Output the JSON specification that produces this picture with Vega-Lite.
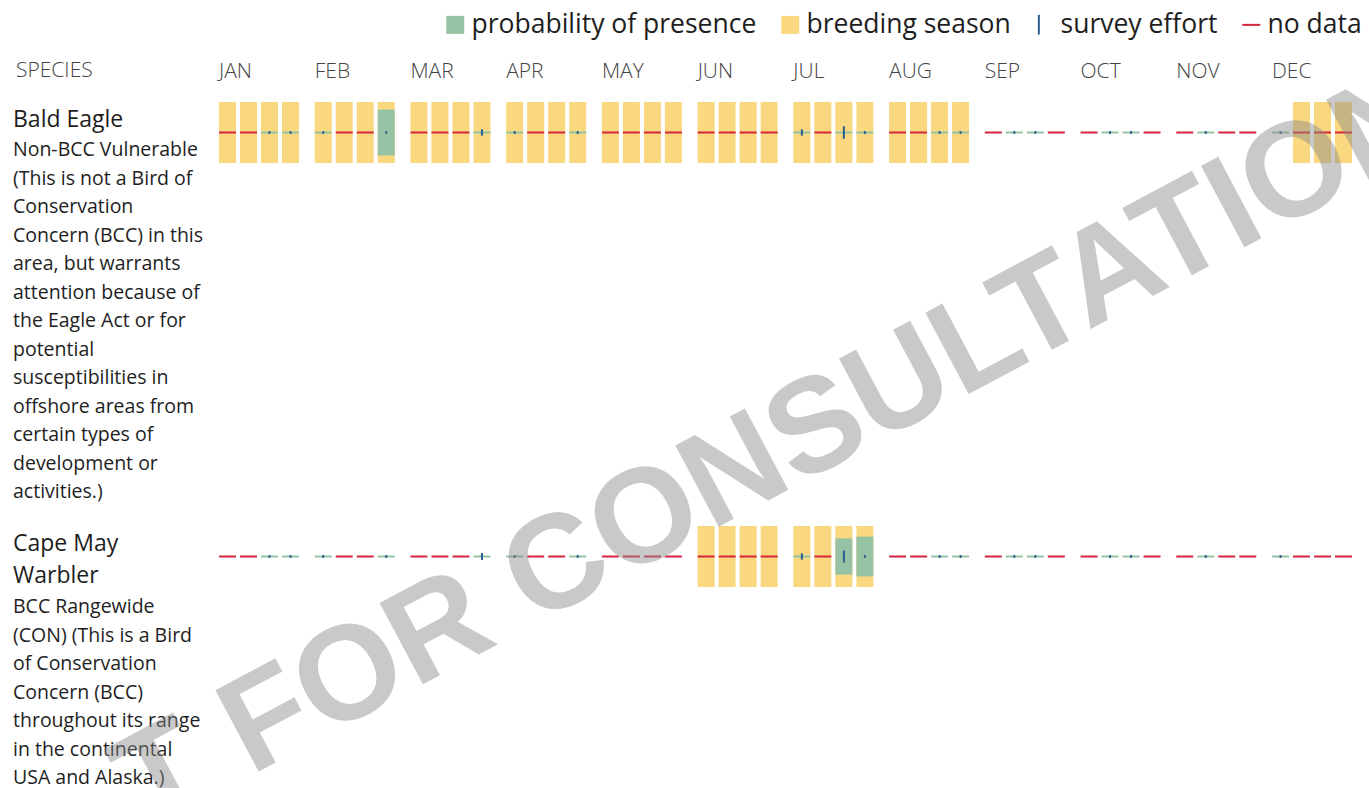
{
  "$schema": "https://vega.github.io/schema/vega-lite/v6.json",
  "autosize": {"type": "none"},
  "padding": {"left": 13, "top": 102, "right": 1356, "bottom": 686},
  "background": "white",
  "config": {"view": {"stroke": null}, "font": "Open Sans"},
  "datasets": {
    "be": [
      {"m":"JAN","w":1,"b":1,"nd":1,"p":0,"e":0},{"m":"JAN","w":2,"b":1,"nd":1,"p":0,"e":0},{"m":"JAN","w":3,"b":1,"nd":0,"p":0,"e":2},{"m":"JAN","w":4,"b":1,"nd":0,"p":0,"e":2},
      {"m":"FEB","w":1,"b":1,"nd":0,"p":0,"e":2},{"m":"FEB","w":2,"b":1,"nd":1,"p":0,"e":0},{"m":"FEB","w":3,"b":1,"nd":1,"p":0,"e":0},{"m":"FEB","w":4,"b":1,"nd":0,"p":7.3,"e":2},
      {"m":"MAR","w":1,"b":1,"nd":1,"p":0,"e":0},{"m":"MAR","w":2,"b":1,"nd":1,"p":0,"e":0},{"m":"MAR","w":3,"b":1,"nd":1,"p":0,"e":0},{"m":"MAR","w":4,"b":1,"nd":0,"p":0,"e":4.5},
      {"m":"APR","w":1,"b":1,"nd":0,"p":0,"e":2},{"m":"APR","w":2,"b":1,"nd":1,"p":0,"e":0},{"m":"APR","w":3,"b":1,"nd":1,"p":0,"e":0},{"m":"APR","w":4,"b":1,"nd":0,"p":0,"e":2},
      {"m":"MAY","w":1,"b":1,"nd":1,"p":0,"e":0},{"m":"MAY","w":2,"b":1,"nd":1,"p":0,"e":0},{"m":"MAY","w":3,"b":1,"nd":1,"p":0,"e":0},{"m":"MAY","w":4,"b":1,"nd":1,"p":0,"e":0},
      {"m":"JUN","w":1,"b":1,"nd":1,"p":0,"e":0},{"m":"JUN","w":2,"b":1,"nd":1,"p":0,"e":0},{"m":"JUN","w":3,"b":1,"nd":1,"p":0,"e":0},{"m":"JUN","w":4,"b":1,"nd":1,"p":0,"e":0},
      {"m":"JUL","w":1,"b":1,"nd":0,"p":0,"e":4.5},{"m":"JUL","w":2,"b":1,"nd":1,"p":0,"e":0},{"m":"JUL","w":3,"b":1,"nd":0,"p":0,"e":9},{"m":"JUL","w":4,"b":1,"nd":0,"p":0,"e":2},
      {"m":"AUG","w":1,"b":1,"nd":1,"p":0,"e":0},{"m":"AUG","w":2,"b":1,"nd":1,"p":0,"e":0},{"m":"AUG","w":3,"b":1,"nd":0,"p":0,"e":2},{"m":"AUG","w":4,"b":1,"nd":0,"p":0,"e":2},
      {"m":"SEP","w":1,"b":0,"nd":1,"p":0,"e":0},{"m":"SEP","w":2,"b":0,"nd":0,"p":0,"e":2},{"m":"SEP","w":3,"b":0,"nd":0,"p":0,"e":2},{"m":"SEP","w":4,"b":0,"nd":1,"p":0,"e":0},
      {"m":"OCT","w":1,"b":0,"nd":1,"p":0,"e":0},{"m":"OCT","w":2,"b":0,"nd":0,"p":0,"e":2},{"m":"OCT","w":3,"b":0,"nd":0,"p":0,"e":2},{"m":"OCT","w":4,"b":0,"nd":1,"p":0,"e":0},
      {"m":"NOV","w":1,"b":0,"nd":1,"p":0,"e":0},{"m":"NOV","w":2,"b":0,"nd":0,"p":0,"e":2},{"m":"NOV","w":3,"b":0,"nd":1,"p":0,"e":0},{"m":"NOV","w":4,"b":0,"nd":1,"p":0,"e":0},
      {"m":"DEC","w":1,"b":0,"nd":0,"p":0,"e":2},{"m":"DEC","w":2,"b":1,"nd":1,"p":0,"e":0},{"m":"DEC","w":3,"b":1,"nd":1,"p":0,"e":0},{"m":"DEC","w":4,"b":1,"nd":1,"p":0,"e":0}
    ],
    "cm": [
      {"m":"JAN","w":1,"b":0,"nd":1,"p":0,"e":0},{"m":"JAN","w":2,"b":0,"nd":1,"p":0,"e":0},{"m":"JAN","w":3,"b":0,"nd":0,"p":0,"e":2},{"m":"JAN","w":4,"b":0,"nd":0,"p":0,"e":2},
      {"m":"FEB","w":1,"b":0,"nd":0,"p":0,"e":2},{"m":"FEB","w":2,"b":0,"nd":1,"p":0,"e":0},{"m":"FEB","w":3,"b":0,"nd":1,"p":0,"e":0},{"m":"FEB","w":4,"b":0,"nd":0,"p":0,"e":2},
      {"m":"MAR","w":1,"b":0,"nd":1,"p":0,"e":0},{"m":"MAR","w":2,"b":0,"nd":1,"p":0,"e":0},{"m":"MAR","w":3,"b":0,"nd":1,"p":0,"e":0},{"m":"MAR","w":4,"b":0,"nd":0,"p":0,"e":5},
      {"m":"APR","w":1,"b":0,"nd":0,"p":0,"e":2},{"m":"APR","w":2,"b":0,"nd":1,"p":0,"e":0},{"m":"APR","w":3,"b":0,"nd":1,"p":0,"e":0},{"m":"APR","w":4,"b":0,"nd":0,"p":0,"e":2},
      {"m":"MAY","w":1,"b":0,"nd":1,"p":0,"e":0},{"m":"MAY","w":2,"b":0,"nd":1,"p":0,"e":0},{"m":"MAY","w":3,"b":0,"nd":1,"p":0,"e":0},{"m":"MAY","w":4,"b":0,"nd":1,"p":0,"e":0},
      {"m":"JUN","w":1,"b":1,"nd":1,"p":0,"e":0},{"m":"JUN","w":2,"b":1,"nd":1,"p":0,"e":0},{"m":"JUN","w":3,"b":1,"nd":1,"p":0,"e":0},{"m":"JUN","w":4,"b":1,"nd":1,"p":0,"e":0},
      {"m":"JUL","w":1,"b":1,"nd":0,"p":0,"e":4.5},{"m":"JUL","w":2,"b":1,"nd":1,"p":0,"e":0},{"m":"JUL","w":3,"b":1,"nd":0,"p":5.7,"e":8.6},{"m":"JUL","w":4,"b":1,"nd":0,"p":6.3,"e":2},
      {"m":"AUG","w":1,"b":0,"nd":1,"p":0,"e":0},{"m":"AUG","w":2,"b":0,"nd":1,"p":0,"e":0},{"m":"AUG","w":3,"b":0,"nd":0,"p":0,"e":2},{"m":"AUG","w":4,"b":0,"nd":0,"p":0,"e":2},
      {"m":"SEP","w":1,"b":0,"nd":1,"p":0,"e":0},{"m":"SEP","w":2,"b":0,"nd":0,"p":0,"e":2},{"m":"SEP","w":3,"b":0,"nd":0,"p":0,"e":2},{"m":"SEP","w":4,"b":0,"nd":1,"p":0,"e":0},
      {"m":"OCT","w":1,"b":0,"nd":1,"p":0,"e":0},{"m":"OCT","w":2,"b":0,"nd":0,"p":0,"e":2},{"m":"OCT","w":3,"b":0,"nd":0,"p":0,"e":2},{"m":"OCT","w":4,"b":0,"nd":1,"p":0,"e":0},
      {"m":"NOV","w":1,"b":0,"nd":1,"p":0,"e":0},{"m":"NOV","w":2,"b":0,"nd":0,"p":0,"e":2},{"m":"NOV","w":3,"b":0,"nd":1,"p":0,"e":0},{"m":"NOV","w":4,"b":0,"nd":1,"p":0,"e":0},
      {"m":"DEC","w":1,"b":0,"nd":0,"p":0,"e":2},{"m":"DEC","w":2,"b":0,"nd":1,"p":0,"e":0},{"m":"DEC","w":3,"b":0,"nd":1,"p":0,"e":0},{"m":"DEC","w":4,"b":0,"nd":1,"p":0,"e":0}
    ],
    "sp1": [{"species": "Bald Eagle", "name": "Bald Eagle", "desc": "Non-BCC Vulnerable\n(This is not a Bird of\nConservation\nConcern (BCC) in this\narea, but warrants\nattention because of\nthe Eagle Act or for\npotential\nsusceptibilities in\noffshore areas from\ncertain types of\ndevelopment or\nactivities.)"}],
    "sp2": [{"species": "Cape May Warbler", "name": "Cape May\nWarbler", "desc": "BCC Rangewide\n(CON) (This is a Bird\nof Conservation\nConcern (BCC)\nthroughout its range\nin the continental\nUSA and Alaska.)"}]
  },
  "bounds": "flush",
  "spacing": 424,
  "resolve": {"scale": {"size": "independent"}},
  "vconcat": [
    {
      "bounds": "flush",
      "spacing": 10,
      "resolve": {"scale": {"size": "independent"}},
      "hconcat": [
        {
          "width": 196, "height": 61,
          "data": {"name": "sp1"},
          "title": {"text": "SPECIES", "anchor": "start", "frame": "group", "offset": 25, "baseline": "alphabetic", "font": "Open Sans", "fontSize": 21, "fontWeight": 300, "color": "#444444", "dx": 3, "dy": 21},
          "encoding": {
            "x": {"field": "species", "type": "nominal", "axis": null, "scale": {"type": "point", "padding": 0, "align": 0}},
            "y": {"field": "species", "type": "nominal", "axis": null, "scale": {"type": "point", "padding": 0, "align": 0}}
          },
          "layer": [
            {"mark": {"type": "text", "align": "left", "baseline": "alphabetic", "lineBreak": "\n", "font": "Open Sans", "fontSize": 23, "lineHeight": 32, "dy": 25, "color": "#1e1e1e"}, "encoding": {"text": {"field": "name"}}},
            {"mark": {"type": "text", "align": "left", "baseline": "alphabetic", "lineBreak": "\n", "font": "Open Sans", "fontSize": 19.5, "lineHeight": 28.5, "dy": 54, "color": "#1e1e1e"}, "encoding": {"text": {"field": "desc"}}}
          ]
        },
        {
          "width": 1133, "height": 61,
          "data": {"name": "be"},
          "resolve": {"scale": {"size": "independent"}},
          "encoding": {
            "x": {"field": "m", "type": "ordinal", "sort": ["JAN","FEB","MAR","APR","MAY","JUN","JUL","AUG","SEP","OCT","NOV","DEC"], "scale": {"domain": ["JAN","FEB","MAR","APR","MAY","JUN","JUL","AUG","SEP","OCT","NOV","DEC"], "paddingInner": 0.1643, "paddingOuter": 0},
              "axis": {"orient": "top", "domain": false, "ticks": false, "tickSize": 0, "grid": false, "title": null, "labelAlign": "left", "labelBaseline": "alphabetic", "labelPadding": 25, "labelOffset": -40, "labelAngle": 0, "labelFont": "Open Sans", "labelFontSize": 21, "labelFontWeight": 300, "labelColor": "#444444"}},
            "xOffset": {"field": "w", "type": "ordinal", "scale": {"domain": [1,2,3,4], "paddingInner": 0.1905, "paddingOuter": 0}}
          },
          "layer": [
            {"transform": [{"filter": "datum.b == 1"}], "mark": {"type": "rect"},
             "encoding": {"color": {"datum": "breeding season", "type": "nominal",
               "scale": {"domain": ["probability of presence","breeding season","survey effort","no data"], "range": ["#97c3a5","#f9d87f","#2c5d8f","#d6253f"]},
               "legend": {"orient": "none", "legendX": 429, "legendY": -91, "direction": "horizontal", "title": null, "padding": 0,
                 "labelFont": "Open Sans", "labelFontSize": 26.5, "labelColor": "#1e1e1e", "labelLimit": 500, "labelOffset": 3, "columnPadding": 20, "symbolSize": 324,
                 "values": ["probability of presence","breeding season","survey effort","no data"],
                 "encode": {"symbols": {"update": {
                   "shape": {"signal": "datum.value === 'survey effort' ? 'M-0.6,-1.1L-0.6,1.1' : datum.value === 'no data' ? 'M-1,0L1,0' : 'square'"},
                   "fill": {"signal": "datum.value === 'survey effort' || datum.value === 'no data' ? 'transparent' : scale('color', datum.value)"},
                   "stroke": {"signal": "scale('color', datum.value)"},
                   "strokeWidth": {"signal": "datum.value === 'survey effort' || datum.value === 'no data' ? 2 : 0"},
                   "opacity": {"value": 1}, "fillOpacity": {"value": 1}, "strokeOpacity": {"value": 1}
                 }}}}}}},
            {"transform": [{"filter": "datum.nd == 0"}], "mark": {"type": "tick", "orient": "vertical", "thickness": 17, "opacity": 1},
             "encoding": {"size": {"field": "p", "type": "quantitative", "scale": {"domain": [0, 10], "range": [2, 62]}, "legend": null}, "color": {"datum": "probability of presence", "type": "nominal"}}},
            {"transform": [{"filter": "datum.nd == 1"}], "mark": {"type": "tick", "orient": "horizontal", "thickness": 2, "size": 17, "opacity": 1},
             "encoding": {"color": {"datum": "no data", "type": "nominal"}}},
            {"transform": [{"filter": "datum.e > 0"}], "mark": {"type": "tick", "orient": "vertical", "thickness": 2, "opacity": 1},
             "encoding": {"size": {"field": "e", "type": "quantitative", "scale": {"domain": [0, 10], "range": [0, 14]}, "legend": null}, "color": {"datum": "survey effort", "type": "nominal"}}}
          ]
        }
      ]
    },
    {
      "bounds": "flush",
      "spacing": 10,
      "resolve": {"scale": {"size": "independent"}},
      "hconcat": [
        {
          "width": 196, "height": 61,
          "data": {"name": "sp2"},
          "encoding": {
            "x": {"field": "species", "type": "nominal", "axis": null, "scale": {"type": "point", "padding": 0, "align": 0}},
            "y": {"field": "species", "type": "nominal", "axis": null, "scale": {"type": "point", "padding": 0, "align": 0}}
          },
          "layer": [
            {"mark": {"type": "text", "align": "left", "baseline": "alphabetic", "lineBreak": "\n", "font": "Open Sans", "fontSize": 23, "lineHeight": 32, "dy": 25, "color": "#1e1e1e"}, "encoding": {"text": {"field": "name"}}},
            {"mark": {"type": "text", "align": "left", "baseline": "alphabetic", "lineBreak": "\n", "font": "Open Sans", "fontSize": 19.5, "lineHeight": 28.5, "dy": 87, "color": "#1e1e1e"}, "encoding": {"text": {"field": "desc"}}}
          ]
        },
        {
          "width": 1133, "height": 61,
          "resolve": {"scale": {"size": "independent"}},
          "layer": [
            {
              "data": {"name": "cm"},
              "resolve": {"scale": {"size": "independent"}},
              "encoding": {
                "x": {"field": "m", "type": "ordinal", "sort": ["JAN","FEB","MAR","APR","MAY","JUN","JUL","AUG","SEP","OCT","NOV","DEC"], "scale": {"domain": ["JAN","FEB","MAR","APR","MAY","JUN","JUL","AUG","SEP","OCT","NOV","DEC"], "paddingInner": 0.1643, "paddingOuter": 0}, "axis": null},
                "xOffset": {"field": "w", "type": "ordinal", "scale": {"domain": [1,2,3,4], "paddingInner": 0.1905, "paddingOuter": 0}}
              },
              "layer": [
                {"transform": [{"filter": "datum.b == 1"}], "mark": {"type": "rect"}, "encoding": {"color": {"datum": "breeding season", "type": "nominal"}}},
                {"transform": [{"filter": "datum.nd == 0"}], "mark": {"type": "tick", "orient": "vertical", "thickness": 17, "opacity": 1},
                 "encoding": {"size": {"field": "p", "type": "quantitative", "scale": {"domain": [0, 10], "range": [2, 62]}, "legend": null}, "color": {"datum": "probability of presence", "type": "nominal"}}},
                {"transform": [{"filter": "datum.nd == 1"}], "mark": {"type": "tick", "orient": "horizontal", "thickness": 2, "size": 17, "opacity": 1},
                 "encoding": {"color": {"datum": "no data", "type": "nominal"}}},
                {"transform": [{"filter": "datum.e > 0"}], "mark": {"type": "tick", "orient": "vertical", "thickness": 2, "opacity": 1},
                 "encoding": {"size": {"field": "e", "type": "quantitative", "scale": {"domain": [0, 10], "range": [0, 14]}, "legend": null}, "color": {"datum": "survey effort", "type": "nominal"}}}
              ]
            },
            {
              "data": {"values": [{"wm": "T FOR CONSULTATION"}]},
              "mark": {"type": "text", "angle": -28, "font": "Liberation Sans", "fontWeight": "bold", "fontSize": 134, "color": "#8a8a8a", "opacity": 0.45, "align": "center", "baseline": "middle", "dx": 85, "dy": -75},
              "encoding": {"x": {"datum": "JUN"}, "text": {"field": "wm"}}
            }
          ]
        }
      ]
    }
  ]
}
